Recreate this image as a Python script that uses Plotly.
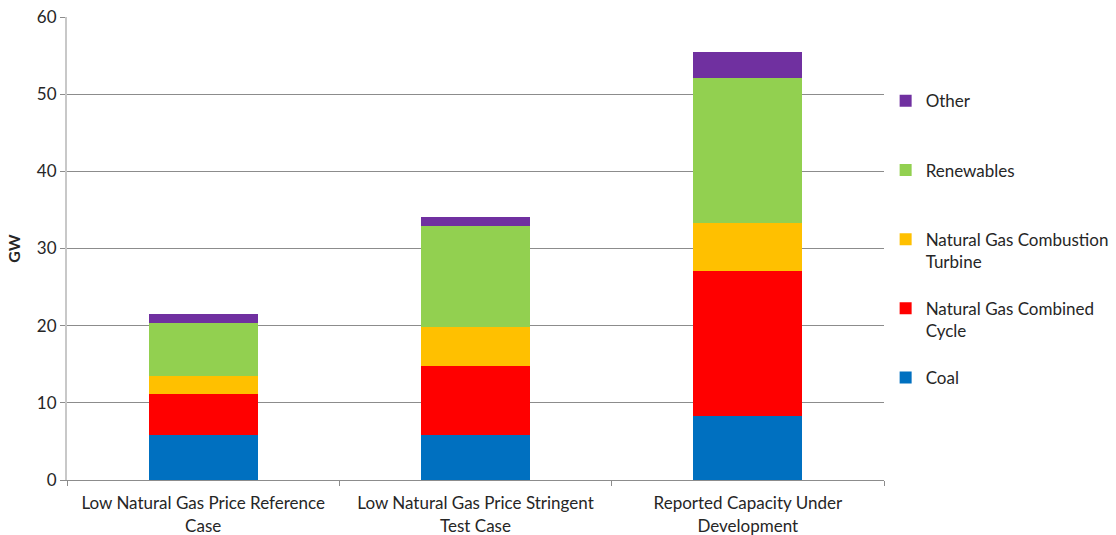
import plotly.graph_objects as go

# Capacity additions by scenario (GW)
categories = [
    "Low Natural Gas Price Reference<br>Case",
    "Low Natural Gas Price Stringent<br>Test Case",
    "Reported Capacity Under<br>Development",
]
coal = [5.8, 5.8, 8.3]
ng_combined_cycle = [5.35, 9.0, 18.75]
ng_combustion_turbine = [2.35, 5.0, 6.2]
renewables = [6.9, 13.15, 18.85]
other = [1.1, 1.15, 3.4]

# Every legend label spans two lines so entries sit on an even pitch
series = [
    ("Coal<br> ", coal, "#0070C0"),
    ("Natural Gas Combined<br>Cycle", ng_combined_cycle, "#FF0000"),
    ("Natural Gas Combustion<br>Turbine", ng_combustion_turbine, "#FFC000"),
    ("Renewables<br> ", renewables, "#92D050"),
    ("Other<br> ", other, "#7030A0"),
]

font_family = "Lato, 'Open Sans', sans-serif"
text_color = "#262626"

fig = go.Figure()
n = len(series)
for i, (name, vals, color) in enumerate(series):
    fig.add_trace(go.Bar(
        x=categories,
        y=vals,
        name=name,
        marker=dict(color=color, line=dict(width=0)),
        legendgroup=f"g{i}",
        legendrank=n - i,
    ))

fig.update_layout(
    barmode="stack",
    bargap=0.6,
    width=1116,
    height=535,
    margin=dict(l=67, r=232, t=17, b=55, autoexpand=False),
    paper_bgcolor="white",
    plot_bgcolor="white",
    font=dict(family=font_family, size=17, color=text_color),
    legend=dict(
        traceorder="grouped",
        tracegroupgap=22,
        valign="top",
        x=1.002,
        xanchor="left",
        y=0.857,
        yanchor="top",
        font=dict(family=font_family, size=17, color=text_color),
        bgcolor="rgba(0,0,0,0)",
    ),
    xaxis=dict(
        automargin=False,
        showline=True,
        linecolor="#8c8c8c",
        linewidth=1,
        ticks="outside",
        tickson="boundaries",
        ticklen=5,
        tickcolor="#8c8c8c",
        showgrid=False,
        ticklabelstandoff=8,
        tickfont=dict(size=17),
    ),
    yaxis=dict(
        automargin=False,
        range=[0, 60],
        dtick=10,
        showgrid=True,
        gridcolor="#8c8c8c",
        gridwidth=1,
        showline=True,
        linecolor="#c8c8c8",
        linewidth=2,
        ticks="outside",
        ticklen=5,
        tickcolor="#8c8c8c",
        zeroline=False,
        tickfont=dict(size=17),
        title=dict(text="<b>GW</b>", font=dict(size=16), standoff=12),
    ),
)

fig.write_html("out.html")
